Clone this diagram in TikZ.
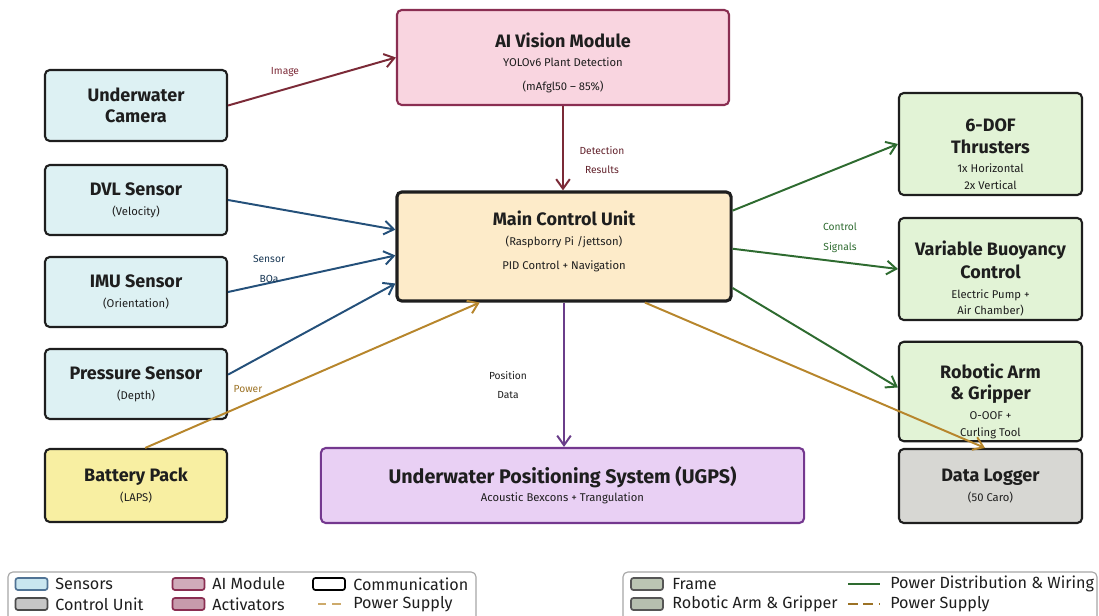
\documentclass[tikz,border=0pt]{standalone}
\usepackage{fontspec}
\setmainfont{Fira Sans}
\usetikzlibrary{arrows.meta,calc}
\definecolor{edgedark}{HTML}{1E1E1E}
\definecolor{sensfill}{HTML}{DDF1F3}
\definecolor{senslegfill}{HTML}{C9E6F0}
\definecolor{battfill}{HTML}{F8EFA2}
\definecolor{aifill}{HTML}{F9D5E0}
\definecolor{aiedge}{HTML}{8A2E52}
\definecolor{mcufill}{HTML}{FDEBC9}
\definecolor{ugpsfill}{HTML}{E9D0F4}
\definecolor{ugpsedge}{HTML}{74388F}
\definecolor{actfill}{HTML}{E2F3D6}
\definecolor{logfill}{HTML}{D7D7D3}
\definecolor{camlink}{HTML}{7B2A37}
\definecolor{senslink}{HTML}{24507A}
\definecolor{ctrllink}{HTML}{2E6B30}
\definecolor{pwrlink}{HTML}{B7862C}
\definecolor{poslink}{HTML}{6A3D8A}
\newcommand{\blkttl}{\fontsize{12.8}{15.5}\selectfont\bfseries}
\newcommand{\blksub}{\fontsize{8}{11.5}\selectfont}
\newcommand{\lnklbl}{\fontsize{7.3}{14}\selectfont}
\newcommand{\actpad}{\rule{0pt}{24pt}}
\begin{document}
\begin{tikzpicture}[>={Straight Barb[length=2.4mm,width=3.4mm]},x=.025cm,y=-.025cm,
	blk/.style={draw=edgedark,line width=1.5pt,rounded corners=.12cm,align=center,inner sep=2pt,text=edgedark},
	sens/.style={blk,fill=sensfill,minimum width=4.55cm,minimum height=1.75cm},
	act/.style={blk,fill=actfill,minimum width=4.575cm,minimum height=2.55cm},
	lnk/.style={->,line width=1.4pt},
	lbl/.style={font=\lnklbl,align=center},
	swatch/.style={draw,line width=1.2pt,rounded corners=.06cm,minimum width=.8cm,minimum height=.3cm,inner sep=0pt},
	legtxt/.style={anchor=west,inner sep=0pt,font=\fontsize{11.5}{13}\selectfont,text=edgedark}]
	\useasboundingbox (0,0) rectangle (1099,616);
	% sensors and battery
	\begin{scope}
		\node[sens,minimum height=1.775cm] (cam) at (136,105.5) {\blkttl Underwater\\[3pt]\blkttl Camera};
		\node[sens] (dvl) at (136,200) {\blkttl DVL Sensor\\[2pt]\blksub (Velocity)};
		\node[sens] (imu) at (136,292) {\blkttl IMU Sensor\\[2pt]\blksub (Orientation)};
		\node[sens] (press) at (136,384) {\blkttl Pressure Sensor\\[2pt]\blksub (Depth)};
		\node[blk,fill=battfill,minimum width=4.55cm,minimum height=1.825cm] (batt) at (136,485.5) {\blkttl Battery Pack\\[2pt]\blksub (LAPS)};
	\end{scope}
	% central blocks
	\begin{scope}
		\node[blk,draw=aiedge,fill=aifill,minimum width=8.3cm,minimum height=2.375cm] (ai) at (563,57.5)
			{\rule{0pt}{18pt}\blkttl AI Vision Module\\[1pt]\blksub YOLOv6 Plant Detection\\[5pt]\blksub (mAfgl50 -- 85\%)};
		\node[blk,line width=2.2pt,fill=mcufill,minimum width=8.35cm,minimum height=2.725cm] (mcu) at (564,246.5)
			{\blkttl Main Control Unit\\[2pt]\blksub (Raspborry Pi /jettson)\\[5pt]\blksub PID Control + Navigation\rule[-9pt]{0pt}{9pt}};
		\node[blk,draw=ugpsedge,fill=ugpsfill,minimum width=12.075cm,minimum height=1.875cm] (ugps) at (562.5,485.5)
			{\fontsize{14}{16}\selectfont\bfseries Underwater Positioning System (UGPS)\\[1pt]\blksub Acoustic Bexcons + Trangulation};
	\end{scope}
	% actuators and logger
	\begin{scope}
		\node[act] (thr) at (990.5,144) {\actpad\blkttl 6-DOF\\[3pt]\blkttl Thrusters\\[2pt]\blksub 1x Horizontal\\\blksub 2x Vertical};
		\node[act] (vbc) at (990.5,269) {\actpad\blkttl Variable Buoyancy\\[3pt]\blkttl Control\\[2pt]\blksub Electric Pump +\\\blksub Air Chamber)};
		\node[act,minimum height=2.475cm] (arm) at (990.5,391.5) {\actpad\blkttl Robotic Arm\\[3pt]\blkttl \& Gripper\\[2pt]\blksub O-OOF +\\\blksub Curling Tool};
		\node[blk,fill=logfill,minimum width=4.575cm,minimum height=1.85cm] (log) at (990.5,486) {\blkttl Data Logger\\[2pt]\blksub (50 Caro)};
	\end{scope}
	% connectors
	\begin{scope}
		\draw[lnk,camlink] (cam.east) -- (ai.west);
		\draw[lnk,camlink] (ai.south) -- (ai.south |- mcu.north);
		\draw[lnk,senslink] (dvl.east) -- ($(mcu.north west)!.35!(mcu.south west)$);
		\draw[lnk,senslink] (imu.east) -- ($(mcu.north west)!.58!(mcu.south west)$);
		\draw[lnk,senslink] ($(press.north east)!.37!(press.south east)$) -- ($(mcu.north west)!.83!(mcu.south west)$);
		\draw[lnk,pwrlink] ($(batt.north west)!.55!(batt.north east)$) -- ($(mcu.south west)!.25!(mcu.south east)$);
		\draw[lnk,pwrlink] ($(mcu.south west)!.74!(mcu.south east)$) -- ($(log.north west)!.47!(log.north east)$);
		\draw[lnk,ctrllink] ($(mcu.north east)!.18!(mcu.south east)$) -- (thr.west);
		\draw[lnk,ctrllink] ($(mcu.north east)!.52!(mcu.south east)$) -- (vbc.west);
		\draw[lnk,ctrllink] ($(mcu.north east)!.87!(mcu.south east)$) -- ($(arm.north west)!.46!(arm.south west)$);
		\draw[lnk,poslink] (mcu.south) -- (mcu.south |- ugps.north);
		\node[lbl,text=camlink] (limg) at (285,72) {Image};
		\node[lbl,text=camlink!80!black] (ldet) at (602,160) {Detection\\Results};
		\node[lbl,text=senslink!70!black] (lsens) at (269,269) {Sensor\\BOa};
		\node[lbl,text=ctrllink] (lctrl) at (840,238) {Control\\Signals};
		\node[lbl,text=edgedark] (lpos) at (508,385) {Position\\Data};
		\node[lbl,text=pwrlink!85!black] (lpwr) at (248,389) {Power};
	\end{scope}
	% legend, left
	\begin{scope}
		\draw[gray!70,line width=.8pt,rounded corners=.12cm] (8,572) rectangle (476,640);
		\node[swatch,draw=senslink!80,fill=senslegfill] (sw1) at (31.5,584) {};
		\node[legtxt] (lg1) at (55,584) {Sensors};
		\node[swatch,draw=edgedark!80,fill=gray!45] (sw2) at (31.5,604) {};
		\node[legtxt] (lg2) at (55,604) {Control Unit};
		\node[swatch,draw=aiedge,fill=aiedge!40] (sw3) at (188.5,584) {};
		\node[legtxt] (lg3) at (212,584) {AI Module};
		\node[swatch,draw=aiedge,fill=aiedge!48] (sw4) at (188.5,604) {};
		\node[legtxt] (lg4) at (212,604) {Activators};
		\node[swatch,draw=black,fill=white] (sw5) at (329,584) {};
		\node[legtxt] (lg5) at (353,584) {Communication};
		\draw[pwrlink!70!white,line width=1.6pt,dash pattern=on 6pt off 4pt] (318,604) -- (346,604);
		\node[legtxt] (lg6) at (353,604) {Power Supply};
	\end{scope}
	% legend, right
	\begin{scope}
		\draw[gray!70,line width=.8pt,rounded corners=.12cm] (623,572) rectangle (1097,640);
		\node[swatch,draw=edgedark!75,fill=actfill!60!gray] (sw7) at (647,584) {};
		\node[legtxt] (lg7) at (672,584) {Frame};
		\node[swatch,draw=edgedark!75,fill=actfill!55!gray] (sw8) at (647,604) {};
		\node[legtxt] (lg8) at (672,604) {Robotic Arm \& Gripper};
		\draw[ctrllink,line width=1.6pt] (848,584) -- (880,584);
		\node[legtxt] (lg9) at (890,584) {Power Distribution \& Wiring};
		\draw[pwrlink!85!black,line width=1.6pt,dash pattern=on 7pt off 4pt] (848,604) -- (880,604);
		\node[legtxt] (lg10) at (890,604) {Power Supply};
	\end{scope}
\end{tikzpicture}
\end{document}
